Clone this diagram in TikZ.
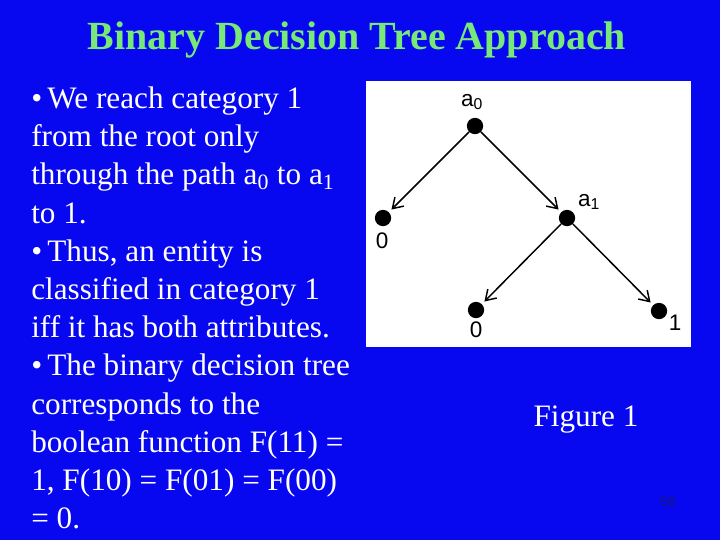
\documentclass[tikz,border=0pt]{standalone}
\usepackage{fontspec}
\setmainfont{Liberation Serif}
\setsansfont{Liberation Sans}
\usetikzlibrary{arrows.meta, positioning}
\definecolor{slideblue}{RGB}{8,8,240}
\definecolor{titlegreen}{RGB}{120,232,120}
\definecolor{pagenavy}{RGB}{25,25,120}
\tikzset{
  titletext/.style={text=titlegreen, font=\fontsize{28.4}{34}\selectfont\bfseries},
  bodyline/.style={anchor=base west, text=white, inner sep=0pt,
    font=\fontsize{22.2}{27}\selectfont},
  treedot/.style={circle, fill=black, minimum size=11.6pt, inner sep=0pt},
  treelabel/.style={inner sep=0pt, font=\sffamily\fontsize{16}{19}\selectfont},
  treearrow/.style={-{Straight Barb[length=7pt, width=9pt]}, line width=1.05pt,
    shorten >=2.5pt}
}

\begin{document}
\begin{tikzpicture}[x=0.025cm, y=-0.025cm]
  \fill[slideblue] (0,0) rectangle (720,540);
  \useasboundingbox (0,0) rectangle (720,540);

  \node[titletext] (title) at (357,40) {Binary Decision Tree Approach};

  % bullet text, one node per line
  \node[bodyline] (l1) at (31,108.5) {\textbullet\,We reach category 1};
  \node[bodyline] (l2) at (31,146.7) {from the root only};
  \node[bodyline] (l3) at (31,184.9) {through the path a\textsubscript{0} to a\textsubscript{1}};
  \node[bodyline] (l4) at (31,223.1) {to 1.};
  \node[bodyline] (l5) at (31,261.3) {\textbullet\,Thus, an entity is};
  \node[bodyline] (l6) at (31,299.5) {classified in category 1};
  \node[bodyline] (l7) at (31,337.7) {iff it has both attributes.};
  \node[bodyline] (l8) at (31,375.9) {\textbullet\,The binary decision tree};
  \node[bodyline] (l9) at (31,414.1) {corresponds to the};
  \node[bodyline] (l10) at (31,452.3) {boolean function F(11) =};
  \node[bodyline] (l11) at (31,490.5) {1, F(10) = F(01) = F(00)};
  \node[bodyline] (l12) at (31,528.7) {= 0.};

  % figure panel
  \fill[white] (366,81) rectangle (691,347);

  \node[treedot] (a0) at (475,126) {};
  \node[treedot] (left0) at (383,218) {};
  \node[treedot] (a1) at (567,218) {};
  \node[treedot] (mid0) at (476,310) {};
  \node[treedot] (right1) at (659,311) {};

  \node[treelabel] (a0lbl) at (472,102) {a\textsubscript{0}};
  \node[treelabel] (a1lbl) at (589,202) {a\textsubscript{1}};
  \node[treelabel] (left0lbl) at (382,241) {0};
  \node[treelabel] (mid0lbl) at (476,330) {0};
  \node[treelabel] (right1lbl) at (675,323) {1};

  \draw[treearrow] (a0) -- (left0);
  \draw[treearrow] (a0) -- (a1);
  \draw[treearrow] (a1) -- (mid0);
  \draw[treearrow] (a1) -- (right1);

  \node[text=white, font=\fontsize{22.2}{27}\selectfont] (fig) at (586,420) {Figure 1};
  \node[text=pagenavy, font=\sffamily\fontsize{10}{12}\selectfont] (page) at (668,502) {56};
\end{tikzpicture}
\end{document}
